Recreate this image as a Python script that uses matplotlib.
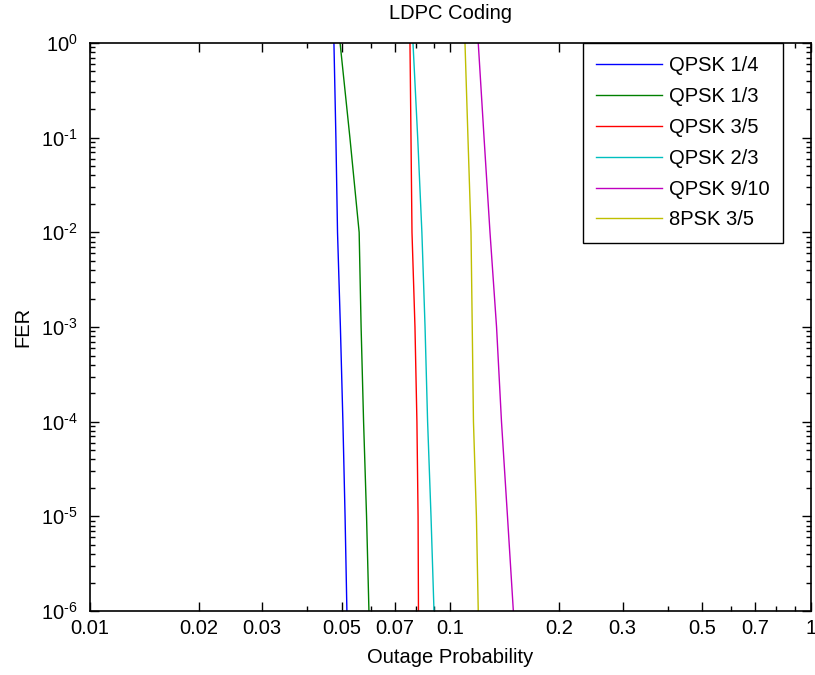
import matplotlib
matplotlib.use("Agg")
import matplotlib.pyplot as plt
from matplotlib.ticker import FixedLocator, LogLocator, NullFormatter

plt.rcParams['font.family'] = ['Liberation Sans', 'DejaVu Sans']
plt.rcParams['mathtext.fontset'] = 'custom'
plt.rcParams['mathtext.rm'] = 'Liberation Sans'
plt.rcParams['mathtext.it'] = 'Liberation Sans'
plt.rcParams['mathtext.default'] = 'regular'

# FER levels, one per decade
fer = [1e0, 1e-1, 1e-2, 1e-3, 1e-4, 1e-5, 1e-6]

# outage probability at each FER level
qpsk_1_4 = [0.0475, 0.0481, 0.0486, 0.0495, 0.0503, 0.0510, 0.0516]
qpsk_1_3 = [0.0494, 0.0526, 0.0558, 0.0565, 0.0574, 0.0585, 0.0594]
qpsk_3_5 = [0.0772, 0.0777, 0.0782, 0.0797, 0.0807, 0.0813, 0.0815]
qpsk_2_3 = [0.0787, 0.0811, 0.0833, 0.0850, 0.0864, 0.0883, 0.0900]
qpsk_9_10 = [0.1194, 0.1239, 0.1287, 0.1342, 0.1385, 0.1439, 0.1494]
psk8_3_5 = [0.1097, 0.1118, 0.1140, 0.1149, 0.1158, 0.1180, 0.1194]

labels = ['QPSK 1/4', 'QPSK 1/3', 'QPSK 3/5', 'QPSK 2/3', 'QPSK 9/10', '8PSK 3/5']
series = [qpsk_1_4, qpsk_1_3, qpsk_3_5, qpsk_2_3, qpsk_9_10, psk8_3_5]
colors = ['#0000ff', '#008000', '#ff0000', '#00bfbf', '#bf00bf', '#bfbf00']

xticks = [0.01, 0.02, 0.03, 0.05, 0.07, 0.1, 0.2, 0.3, 0.5, 0.7, 1]
xticklabels = ['0.01', '0.02', '0.03', '0.05', '0.07', '0.1', '0.2', '0.3', '0.5', '0.7', '1']
yticks = [1e-6, 1e-5, 1e-4, 1e-3, 1e-2, 1e-1, 1e0]
yticklabels = ['$10^{\u20106}$', '$10^{\u20105}$', '$10^{\u20104}$', '$10^{\u20103}$',
               '$10^{\u20102}$', '$10^{\u20101}$', '$10^{0}$']

fs = 14.5
fig = plt.figure(figsize=(8.15, 6.75), dpi=100)
ax = fig.add_axes([0.1104, 0.0948, 0.8847, 0.8415])

for x, lab, c in zip(series, labels, colors):
    ax.plot(x, fer, color=c, lw=1.0, label=lab)

ax.set_xscale('log')
ax.set_yscale('log')
ax.set_xlim(0.01, 1)
ax.set_ylim(1e-6, 1)

ax.xaxis.set_major_locator(FixedLocator(xticks))
ax.set_xticklabels(xticklabels)
ax.xaxis.set_minor_locator(FixedLocator([0.04, 0.06, 0.08, 0.09, 0.4, 0.6, 0.8, 0.9]))
ax.xaxis.set_minor_formatter(NullFormatter())
ax.yaxis.set_major_locator(FixedLocator(yticks))
ax.set_yticklabels(yticklabels)
ax.yaxis.set_minor_locator(LogLocator(base=10, subs=range(2, 10), numticks=20))
ax.yaxis.set_minor_formatter(NullFormatter())

ax.tick_params(which='both', direction='in', top=True, right=True, labelsize=fs, width=1.0)
ax.tick_params(which='major', length=6.5)
ax.tick_params(which='minor', length=3.5)
ax.tick_params(axis='x', which='major', pad=6)
ax.tick_params(axis='y', which='major', pad=9)
for sp in ax.spines.values():
    sp.set_linewidth(1.2)

ax.set_title('LDPC Coding', fontsize=fs, pad=17)
ax.set_xlabel('Outage Probability', fontsize=fs, labelpad=7)
ax.set_ylabel('FER', fontsize=fs, labelpad=6)

leg = ax.legend(loc='upper right', bbox_to_anchor=(0.961, 1.0), borderaxespad=0,
                fontsize=fs, fancybox=False, edgecolor='black', framealpha=1,
                handlelength=3.3, handletextpad=0.35, labelspacing=0.59, borderpad=0.65)
leg.get_frame().set_linewidth(1.0)

fig.savefig('out.png', dpi=100)
